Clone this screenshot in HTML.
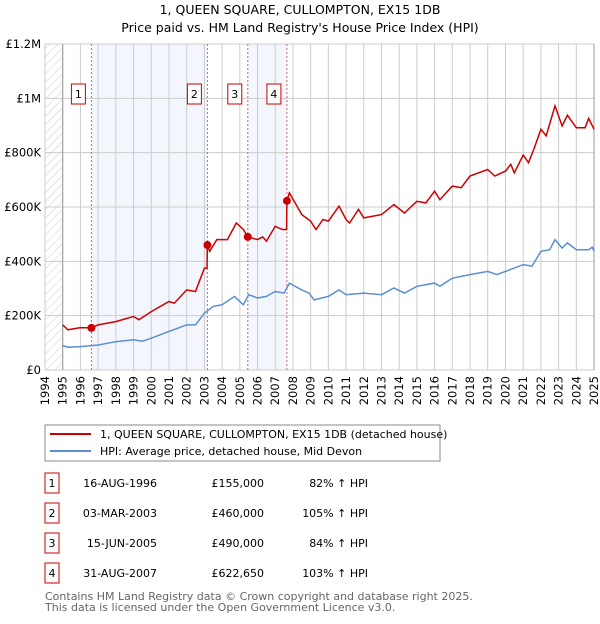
<!DOCTYPE html>
<html><head><meta charset="utf-8"><style>
body{margin:0;background:#fff;font-family:"DejaVu Sans","Liberation Sans",sans-serif;}
svg text{font-family:"DejaVu Sans","Liberation Sans",sans-serif;}
</style></head><body>
<svg id="chart" width="600" height="620" xmlns="http://www.w3.org/2000/svg">
<defs><pattern id="hatch" width="6" height="6" patternUnits="userSpaceOnUse" patternTransform="rotate(45)"><line x1="0" y1="0" x2="0" y2="6" stroke="#ccc" stroke-width="1"/></pattern></defs>
<text x="300" y="14" text-anchor="middle" font-size="12.5">1, QUEEN SQUARE, CULLOMPTON, EX15 1DB</text>
<text x="300" y="32" text-anchor="middle" font-size="12.5">Price paid vs. HM Land Registry's House Price Index (HPI)</text>
<g id="plot"></g>
<g>
<rect x="45" y="425" width="395" height="36" fill="#fff" stroke="#888"/>
<line x1="50" y1="434" x2="91" y2="434" stroke="#cc0000" stroke-width="2"/>
<text x="100" y="438" font-size="11">1, QUEEN SQUARE, CULLOMPTON, EX15 1DB (detached house)</text>
<line x1="50" y1="451" x2="91" y2="451" stroke="#5b8fd0" stroke-width="2"/>
<text x="100" y="455" font-size="11">HPI: Average price, detached house, Mid Devon</text>
</g>
<g id="table" font-size="11"></g>
<text x="45" y="600" font-size="11" fill="#666">Contains HM Land Registry data © Crown copyright and database right 2025.</text>
<text x="45" y="611" font-size="11" fill="#666">This data is licensed under the Open Government Licence v3.0.</text>
</svg>
<script>
const hpiYears=[1995,1995.3,1996,1997,1998,1999,1999.5,2000,2001,2001.5,2002,2002.5,2003,2003.5,2004,2004.7,2005.2,2005.5,2006,2006.5,2007,2007.5,2007.8,2008.5,2008.9,2009.2,2010,2010.6,2011,2012,2013,2013.7,2014.3,2015,2016,2016.3,2017,2018,2019,2019.5,2020,2021,2021.5,2022,2022.5,2022.8,2023.2,2023.5,2024,2024.7,2024.9,2025];
const hpiValues=[90,84,86,92,104,111,106,117,142,154,166,166,209,234,240,271,240,277,265,271,289,283,320,295,283,258,271,295,277,283,277,302,283,308,320,308,338,351,363,351,363,388,382,437,443,480,449,468,443,443,452,437];
const redYears=[1995,1995.3,1996,1996.62,1997,1998,1999,1999.3,2000,2001,2001.3,2002,2002.5,2003,2003.15,2003.17,2003.3,2003.7,2004.3,2004.8,2005.2,2005.45,2006,2006.3,2006.5,2007,2007.4,2007.64,2007.66,2007.8,2008.5,2009,2009.3,2009.7,2010,2010.6,2011,2011.2,2011.7,2012,2013,2013.7,2014.3,2015,2015.5,2016,2016.3,2017,2017.5,2018,2019,2019.4,2020,2020.3,2020.5,2021,2021.3,2021.6,2022,2022.3,2022.8,2023.2,2023.5,2024,2024.5,2024.7,2025];
const redValues=[166,148,156,155,166,178,197,185,215,252,246,295,289,375,375,460,437,480,480,541,517,490,480,490,474,529,517,517,622,652,572,548,517,554,548,603,554,541,591,560,572,609,578,621,615,658,627,677,671,714,738,714,732,757,726,791,763,812,886,862,972,898,938,892,892,926,886];
const saleLabels=["1","2","3","4"];
const saleYears=[1996.62,2003.17,2005.45,2007.66];
const salePrices=[155000,460000,490000,622650];
const saleDates=["16-AUG-1996","03-MAR-2003","15-JUN-2005","31-AUG-2007"];
const salePriceText=["£155,000","£460,000","£490,000","£622,650"];
const saleHpiText=["82% ↑ HPI","105% ↑ HPI","84% ↑ HPI","103% ↑ HPI"];
const yTicks=[0,200000,400000,600000,800000,1000000,1200000];
const yTickLabels=["£0","£200K","£400K","£600K","£800K","£1M","£1.2M"];
const xTicks=[1994,1995,1996,1997,1998,1999,2000,2001,2002,2003,2004,2005,2006,2007,2008,2009,2010,2011,2012,2013,2014,2015,2016,2017,2018,2019,2020,2021,2022,2023,2024,2025];

const X0=45,X1=594,Y0=370,Y1=44;
const x=v=>X0+(v-1994)/31*(X1-X0);
const y=v=>Y0-v/1200000*(Y0-Y1);
const NS="http://www.w3.org/2000/svg";
const plot=document.getElementById('plot');
function mk(tag,attrs,parent){const e=document.createElementNS(NS,tag);for(const k in attrs)e.setAttribute(k,attrs[k]);(parent||plot).appendChild(e);return e;}

// shaded regions
let r;
r=mk('rect',{x:x(saleYears[0]),y:Y1,width:x(saleYears[1])-x(saleYears[0]),height:Y0-Y1,fill:'#eef3fc',opacity:0.7});


r=mk('rect',{x:x(saleYears[2]),y:Y1,width:x(saleYears[3])-x(saleYears[2]),height:Y0-Y1,fill:'#eef3fc',opacity:0.7});


r=mk('rect',{x:X0,y:Y1,width:x(1995)-X0,height:Y0-Y1,fill:'url(#hatch)'});



// grid
xTicks.forEach((t,i)=>{
  const l=mk('line',{x1:x(t),x2:x(t),y1:Y1,y2:Y0,stroke:'#ccc','stroke-width':1});
  
  
  const tx=mk('text',{x:0,y:0,'font-size':11.5,'text-anchor':'end',transform:`translate(${x(t)+4},${Y0+6}) rotate(-90)`});
  tx.textContent=t;
  
  
});
yTicks.forEach((t,i)=>{
  const l=mk('line',{x1:X0,x2:X1,y1:y(t),y2:y(t),stroke:'#ccc','stroke-width':1});
  
  
  const tx=mk('text',{x:X0-4,y:y(t)+4,'font-size':11.5,'text-anchor':'end'});
  tx.textContent=yTickLabels[i];
  
  
});
let ax=mk('line',{x1:x(1995),x2:x(1995),y1:Y1,y2:Y0,stroke:'#999'});


ax=mk('line',{x1:X1,x2:X1,y1:Y1,y2:Y0,stroke:'#999'});



// sale vlines + labels
saleYears.forEach((s,i)=>{
  const l=mk('line',{x1:x(s),x2:x(s),y1:Y1,y2:Y0,stroke:'#e06060','stroke-dasharray':'2,2','stroke-width':1});
  
  
  const b=mk('rect',{x:x(s)-20,y:84,width:14,height:20,fill:'#fff',stroke:'#cc0000'});
  
  
  const t=mk('text',{x:x(s)-13,y:98,'font-size':11,'text-anchor':'middle'});
  t.textContent=saleLabels[i];
  
  
});

// series
const hp=mk('path',{d:hpiYears.map((v,i)=>(i?'L':'M')+x(v).toFixed(1)+','+y(hpiValues[i]*1000).toFixed(1)).join(''),fill:'none',stroke:'#5b8fd0','stroke-width':1.5});


const rp=mk('path',{d:redYears.map((v,i)=>(i?'L':'M')+x(v).toFixed(1)+','+y(redValues[i]*1000).toFixed(1)).join(''),fill:'none',stroke:'#cc0000','stroke-width':1.5});


saleYears.forEach((s,i)=>{
  const c=mk('circle',{cx:x(s),cy:y(salePrices[i]),r:4,fill:'#cc0000'});
  
  
});

// table
const tb=document.getElementById('table');
saleLabels.forEach((lab,i)=>{
  const cy=483+i*30;
  const b=mk('rect',{x:45,y:cy-10,width:14,height:20,fill:'#fff',stroke:'#cc0000'},tb);
  
  
  const cells=[[52,lab,'middle'],[157,saleDates[i],'end'],[264,salePriceText[i],'end'],[368,saleHpiText[i],'end']];
  cells.forEach(c=>{
    const t=mk('text',{x:c[0],y:cy+4,'text-anchor':c[2]},tb);
    t.textContent=c[1];
    
    
  });
});
</script>
</body></html>
